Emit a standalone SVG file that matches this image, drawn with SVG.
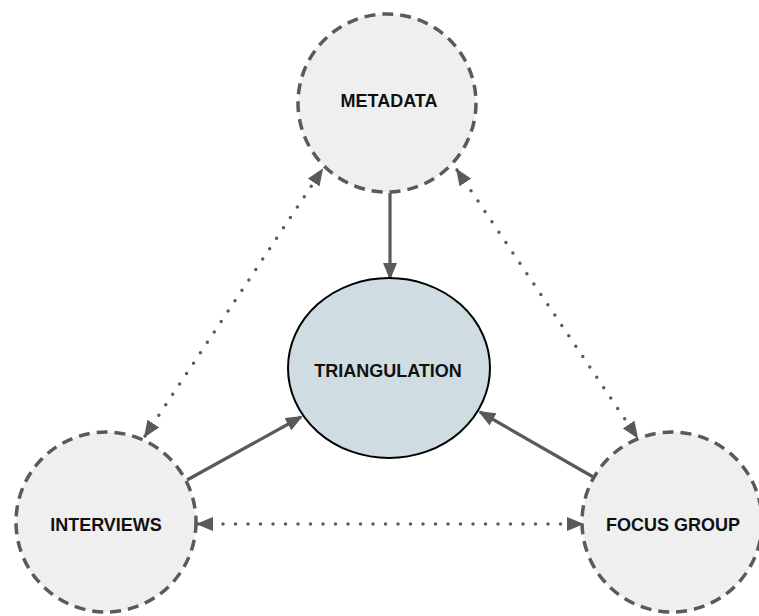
<svg xmlns="http://www.w3.org/2000/svg" width="759" height="616" viewBox="0 0 759 616">
  <defs>
    <style>
      .source { fill: #efefef; stroke: #5a5a5a; stroke-width: 3.5; stroke-dasharray: 11 7; }
      .core { fill: #cfdde3; stroke: #000000; stroke-width: 2; }
      .label { font-family: "Liberation Sans", Arial, sans-serif; font-weight: bold; font-size: 18px; fill: #111111; text-anchor: middle; }
      .flow { stroke: #5a5a5a; stroke-width: 3.2; fill: none; }
      .link { stroke: #5a5a5a; stroke-width: 3.5; fill: none; stroke-linecap: round; stroke-dasharray: 0 12.5; }
    </style>
    <marker id="head" viewBox="0 0 17 14" refX="15" refY="7" markerWidth="17" markerHeight="14" markerUnits="userSpaceOnUse" orient="auto-start-reverse">
      <path d="M0,0 L17,7 L0,14 z" fill="#5a5a5a"/>
    </marker>
  </defs>

  <rect width="759" height="616" fill="#ffffff"/>

  <!-- connectors -->
  <g id="connectors">
    <line class="link" x1="145" y1="436" x2="322" y2="170" marker-start="url(#head)" marker-end="url(#head)"/>
    <line class="link" x1="457" y1="170" x2="637" y2="437" marker-start="url(#head)" marker-end="url(#head)"/>
    <line class="link" x1="198" y1="524" x2="582" y2="524" marker-start="url(#head)" marker-end="url(#head)"/>
    <line class="flow" x1="390" y1="193" x2="390" y2="278" marker-end="url(#head)"/>
    <line class="flow" x1="187" y1="480" x2="301" y2="417" marker-end="url(#head)"/>
    <line class="flow" x1="595" y1="478" x2="480" y2="412" marker-end="url(#head)"/>
  </g>

  <g id="metadata">
    <circle class="source" cx="387" cy="103" r="89"/>
    <text class="label" x="389" y="107">METADATA</text>
  </g>

  <g id="triangulation">
    <ellipse class="core" cx="389" cy="368" rx="101" ry="90"/>
    <text class="label" x="388" y="377">TRIANGULATION</text>
  </g>

  <g id="interviews">
    <circle class="source" cx="106" cy="522" r="90"/>
    <text class="label" x="106" y="531">INTERVIEWS</text>
  </g>

  <g id="focus-group">
    <circle class="source" cx="672" cy="522" r="90"/>
    <text class="label" x="673" y="531">FOCUS GROUP</text>
  </g>
</svg>
